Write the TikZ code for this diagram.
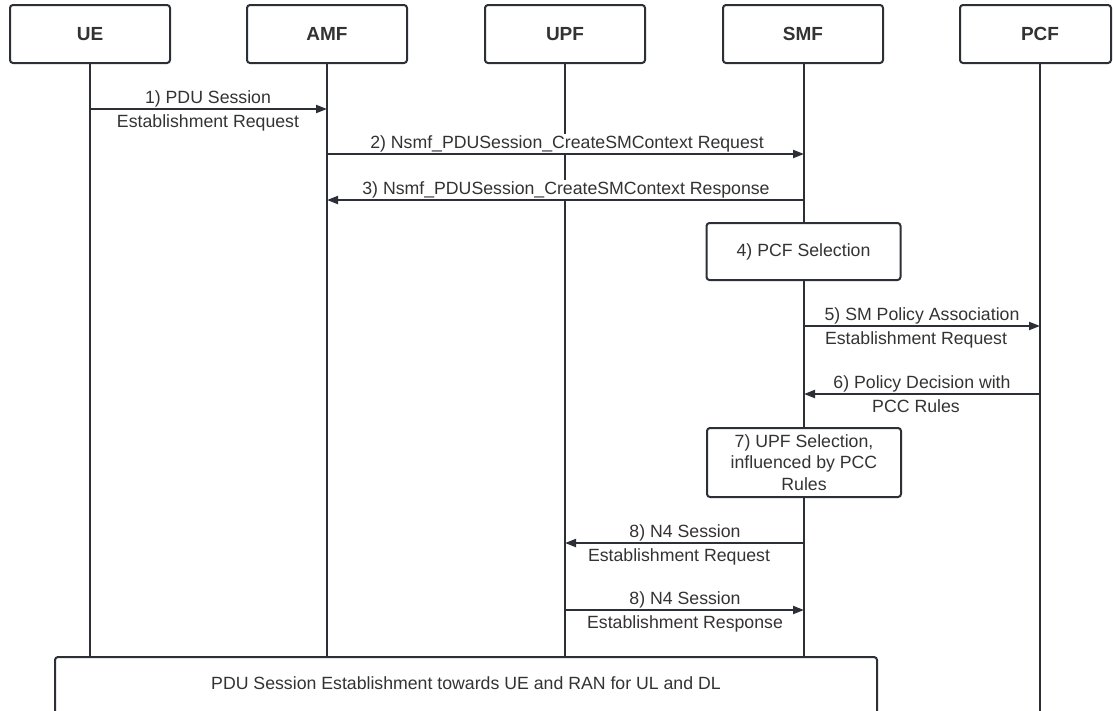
\documentclass[tikz,border=0pt]{standalone}
\usepackage{fontspec}
\setmainfont{Liberation Sans}
\usetikzlibrary{arrows.meta}
\definecolor{ink}{HTML}{2C3036}
\definecolor{txt}{HTML}{333333}
\begin{document}
\begin{tikzpicture}[x=1pt,y=-1pt,
  every node/.style={text=txt, font=\fontsize{17.7}{21.7}\selectfont},
  actor/.style={draw=ink, line width=2pt, rounded corners=3pt, fill=white,
    minimum width=160pt, minimum height=58pt, inner sep=0pt,
    font=\fontsize{19}{22}\selectfont\bfseries},
  lifeline/.style={draw=ink, line width=2pt},
  msg/.style={draw=ink, line width=2pt, -{Triangle[length=11pt,width=8pt]}},
  above label/.style={anchor=base, inner sep=1pt},
  below label/.style={anchor=base, inner sep=1pt},
  masked/.style={fill=white},
  actionbox/.style={draw=ink, line width=2pt, rounded corners=3pt, fill=white,
    minimum width=194pt, inner sep=0pt, align=center}
]
\useasboundingbox (0,0) rectangle (1113,710);

% participants
\node[actor] (ue)  at (90,34)  {UE};
\node[actor] (amf) at (327,34) {AMF};
\node[actor] (upf) at (565,34) {UPF};
\node[actor] (smf) at (803,34) {SMF};
\node[actor, minimum width=151pt] (pcf) at (1035.5,34) {};
\node[font=\fontsize{19}{22}\selectfont\bfseries] (pcft) at (1040,34) {PCF};

% closing step, open at the bottom edge
\node[minimum width=822pt, minimum height=53pt, inner sep=0pt] (bot) at (466,683.5)
  {PDU Session Establishment towards UE and RAN for UL and DL};

% lifeline anchors
\coordinate (lue)  at (90,63);
\coordinate (lamf) at (327,63);
\coordinate (lupf) at (565,63);
\coordinate (lsmf) at (804,63);
\coordinate (lpcf) at (1040,63);

% lifelines
\draw[lifeline] (lue)  -- (lue  |- bot.north);
\draw[lifeline] (lamf) -- (lamf |- bot.north);
\draw[lifeline] (lupf) -- (lupf |- bot.north);
\draw[lifeline] (lsmf) -- (lsmf |- bot.north);
\draw[lifeline] (lpcf) -- (1040,712);

% outline of the closing step
\draw[draw=ink, line width=2pt, rounded corners=3pt]
  (55,714) -- (55,657) -- (877,657) -- (877,714);

% message end points
\coordinate (m1a) at (90,109);   \coordinate (m1b) at (327,109);
\coordinate (m2a) at (327,154);  \coordinate (m2b) at (804,154);
\coordinate (m3a) at (804,200);  \coordinate (m3b) at (327,200);
\coordinate (m5a) at (804,326);  \coordinate (m5b) at (1040,326);
\coordinate (m6a) at (1040,394); \coordinate (m6b) at (804,394);
\coordinate (m8a) at (804,543);  \coordinate (m8b) at (565,543);
\coordinate (m9a) at (565,610);  \coordinate (m9b) at (804,610);

% message labels
\node[above label] (t1a) at (208,103) {1) PDU Session};
\node[below label] (t1b) at (208,127) {Establishment Request};
\node[above label, masked] (t2) at (567,148) {2) Nsmf\_PDUSession\_CreateSMContext Request};
\node[above label, masked] (t3) at (566,194) {3) Nsmf\_PDUSession\_CreateSMContext Response};
\node[above label] (t5a) at (922,320) {5) SM Policy Association};
\node[below label] (t5b) at (916,344) {Establishment Request};
\node[above label] (t6a) at (922,388) {6) Policy Decision with};
\node[below label] (t6b) at (916,412) {PCC Rules};
\node[above label] (t8a) at (685,537) {8) N4 Session};
\node[below label] (t8b) at (679,561) {Establishment Request};
\node[above label] (t9a) at (685,604) {8) N4 Session};
\node[below label] (t9b) at (685,628) {Establishment Response};

% messages
\draw[msg] (m1a) -- (m1b);
\draw[msg] (m2a) -- (m2b);
\draw[msg] (m3a) -- (m3b);
\draw[msg] (m5a) -- (m5b);
\draw[msg] (m6a) -- (m6b);
\draw[msg] (m8a) -- (m8b);
\draw[msg] (m9a) -- (m9b);

% local actions at the SMF
\node[actionbox, minimum height=57pt] (pcfsel) at (803.5,251.5) {4) PCF Selection};
\node[actionbox, minimum height=69pt] (upfsel) at (804,462.5)
  {7) UPF Selection,\\influenced by PCC\\Rules};
\end{tikzpicture}
\end{document}
